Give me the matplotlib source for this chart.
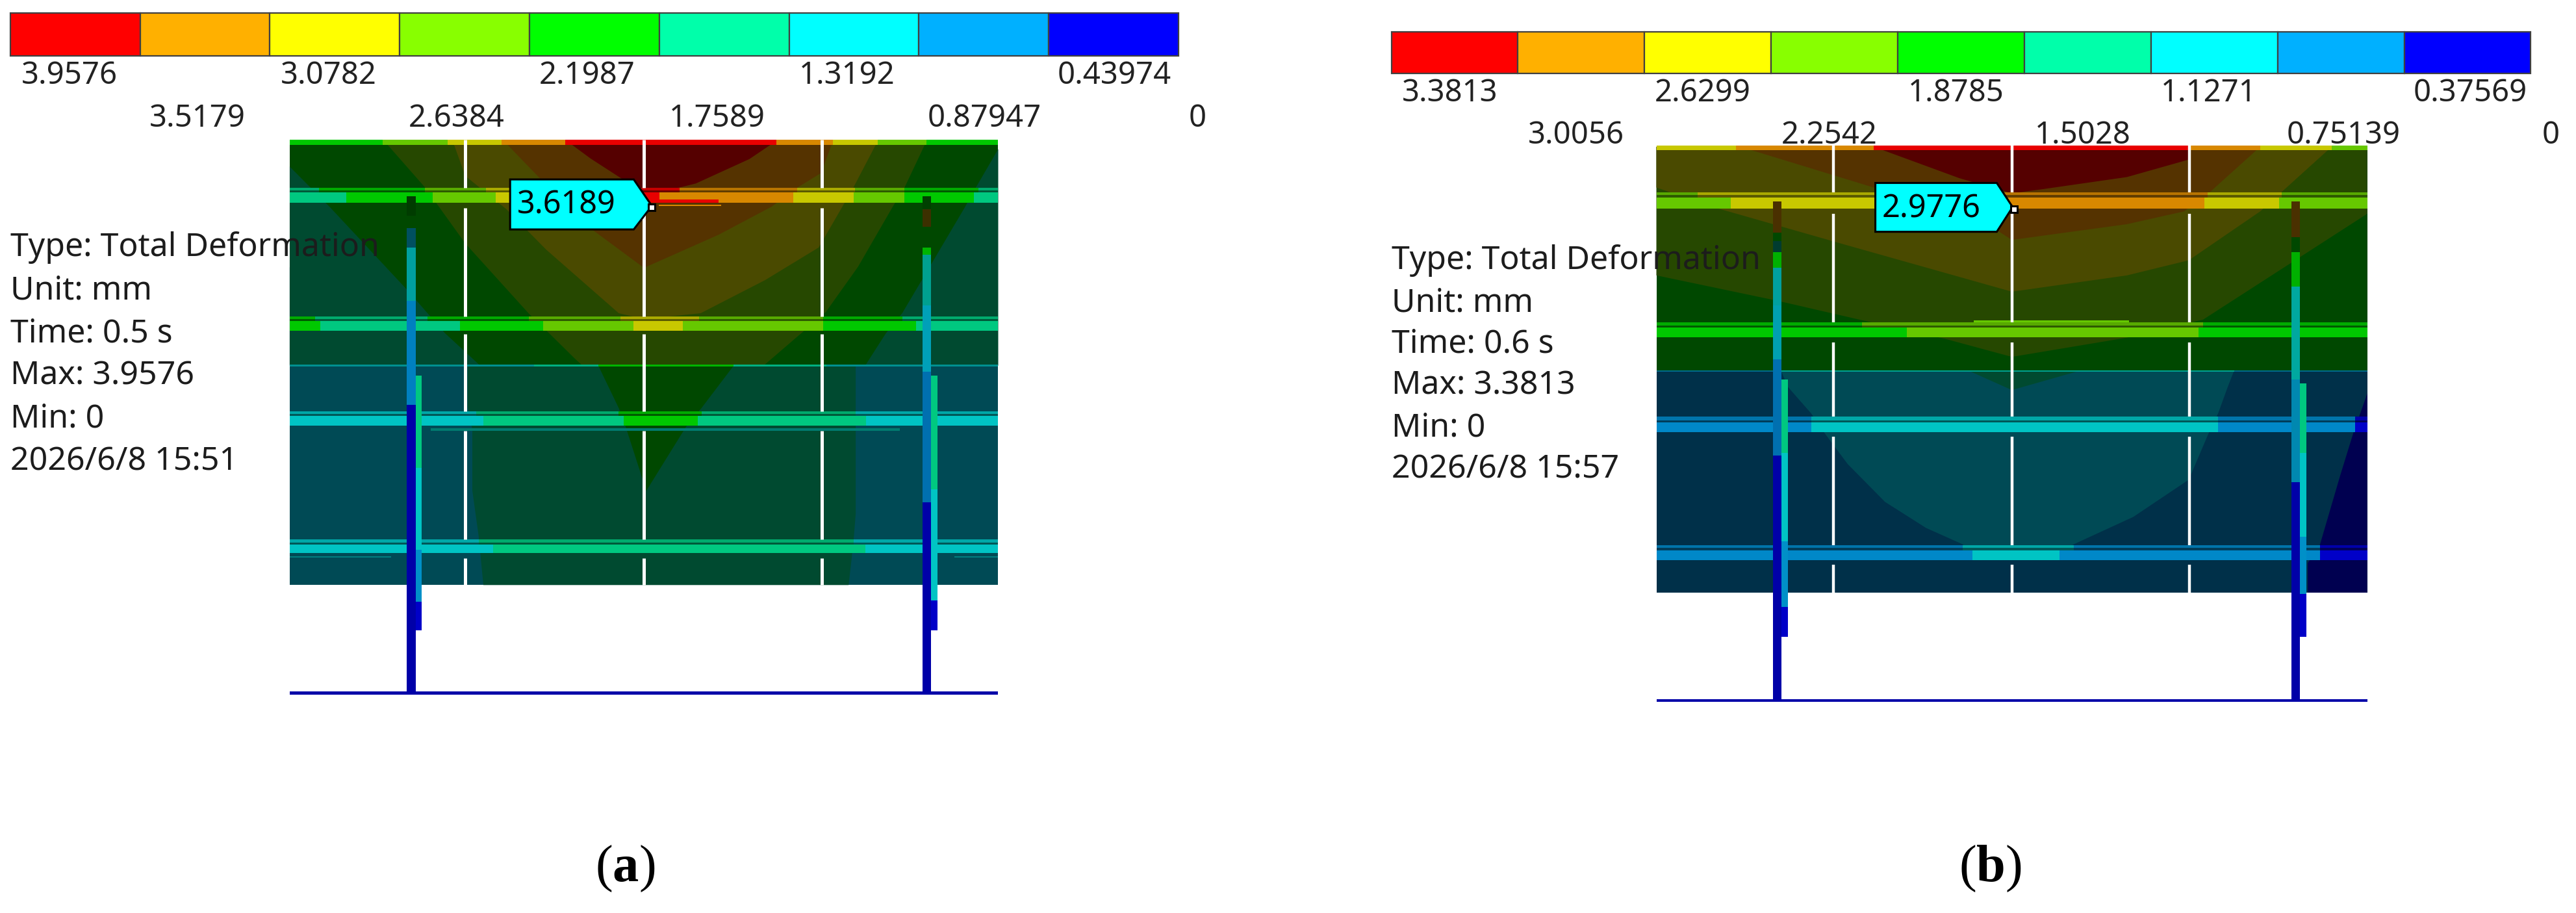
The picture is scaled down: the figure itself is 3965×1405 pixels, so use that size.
import numpy as np
import matplotlib
matplotlib.use('Agg')
import matplotlib.pyplot as plt
from matplotlib.patches import Polygon

plt.rcParams['font.family'] = ['Noto Sans', 'DejaVu Sans']
plt.rcParams['mathtext.fontset'] = 'custom'
plt.rcParams['mathtext.bf'] = 'Liberation Serif:bold'
plt.rcParams['mathtext.rm'] = 'Liberation Serif'

# legend
BAR_COLOURS = ['#ff0000', '#ffb000', '#ffff00', '#88ff00', '#00ff00',
               '#00ffaa', '#00ffff', '#00b0ff', '#0000ff']
A_LEVELS = ['3.9576', '3.5179', '3.0782', '2.6384', '2.1987', '1.7589',
            '1.3192', '0.87947', '0.43974', '0']
B_LEVELS = ['3.3813', '3.0056', '2.6299', '2.2542', '1.8785', '1.5028',
            '1.1271', '0.75139', '0.37569', '0']
A_INFO = ['Type: Total Deformation', 'Unit: mm', 'Time: 0.5 s', 'Max: 3.9576', 'Min: 0', '2026/6/8 15:51']
B_INFO = ['Type: Total Deformation', 'Unit: mm', 'Time: 0.6 s', 'Max: 3.3813', 'Min: 0', '2026/6/8 15:57']
A_PROBE = '3.6189'
B_PROBE = '2.9776'

# shaded plate colours
D_RED = '#550000'
D_BROWN = '#553300'
D_OLIVE = '#4a4a00'
D_OGREEN = '#264800'
D_GREEN = '#004800'
D_TGREEN = '#004a30'
D_TEAL = '#004a55'
D_BLUE = '#003049'
D_NAVY = '#000050'

# beam colours
RED = '#e80000'
ORG = '#d88800'
YEL = '#c8c800'
LIM = '#66c800'
GRN = '#00c800'
TGR = '#00c880'
CYN = '#00c4c4'
SKY = '#0088c8'
BLU = '#0000c8'
NVY = '#0000a8'

# panel a contour regions, painted back to front
A_PLATE_TOP = [(368, 240), (1268, 240), (1268, 626), (368, 626)]
A_PLATE_LOW = [(368, 626), (1268, 626), (1268, 1003), (368, 1003)]
A_TEAL_L = [(368, 457), (407, 537), (424, 569), (448, 626), (368, 626)]
A_TGREEN_L = [(368, 284), (420, 355), (518, 497), (565, 570), (610, 626), (368, 626)]
A_TGREEN_R = [(1268, 254), (1240, 319), (1226, 353), (1181, 456), (1146, 536),
              (1125, 571), (1099, 626), (1268, 626)]
A_OGREEN = [(488, 240), (540, 320), (591, 416), (672, 537), (698, 571), (731, 615), (740, 626),
            (970, 626), (1019, 569), (1049, 534), (1090, 456), (1134, 353), (1149, 320), (1177, 240)]
A_OLIVE = [(575, 240), (591, 300), (643, 357), (694, 427), (786, 536), (818, 546),
           (890, 536), (972, 479), (1040, 423), (1046, 409), (1070, 353), (1084, 320), (1115, 240)]
A_BROWN = [(640, 240), (690, 310), (735, 375), (818, 458), (913, 401), (980, 353),
           (1013, 320), (1043, 295), (1058, 240)]
A_DRED = [(720, 240), (750, 270), (790, 305), (815, 328), (863, 320), (884, 313),
          (952, 271), (986, 240)]
A_TGREEN_LOW = [(594, 626), (594, 697), (600, 736), (600, 841), (608, 919), (614, 1003),
                (1078, 1003), (1084, 931), (1087, 880), (1087, 626)]
A_GREEN_V = [(760, 626), (786, 699), (795, 732), (821, 841), (871, 732), (891, 699), (932, 626)]

# panel a beams: colour break points along each member
A_STRIPE_E = [368, 486, 569, 637, 718, 986, 1058, 1115, 1177, 1268]
A_STRIPE_C = [GRN, LIM, YEL, ORG, RED, ORG, YEL, LIM, GRN]
A_B1_TOP_E = [368, 405, 540, 617, 648, 863, 1013, 1086, 1149, 1243, 1268]
A_B1_TOP_C = [TGR, GRN, LIM, YEL, RED, ORG, YEL, LIM, GRN, TGR]
A_B1_E = [368, 440, 550, 630, 648, 838, 1008, 1084, 1149, 1237, 1268]
A_B1_C = [TGR, GRN, LIM, YEL, RED, ORG, YEL, LIM, GRN, TGR]
A_B2_TOP_E = [368, 400, 543, 672, 788, 888, 1046, 1146, 1268]
A_B2_TOP_C = [GRN, TGR, GRN, LIM, YEL, LIM, GRN, TGR]
A_B2_E = [368, 407, 584, 690, 805, 867, 1046, 1164, 1268]
A_B2_C = [GRN, TGR, GRN, LIM, YEL, LIM, GRN, TGR]
A_B3_TOP_E = [368, 605, 786, 891, 1087, 1268]
A_B3_TOP_C = [CYN, TGR, GRN, TGR, CYN]
A_B3_E = [368, 614, 792, 886, 1100, 1268]
A_B3_C = [CYN, TGR, GRN, TGR, CYN]
A_B4_TOP_E = [368, 608, 1084, 1268]
A_B4_E = [368, 626, 1099, 1268]
A_B4_C = [CYN, TGR, CYN]
A_BEAM_Y = [(320, 325, 328, 346), (541, 546, 549, 566), (704, 709, 712, 729), (925, 930, 933, 948)]
A_LINE_E = [368, 678, 760, 932, 1050, 1268]
A_LINE_C = ['#009090', '#00b080', '#00b400', '#00b080', '#009090']

# panel a uprights: colour break points going down
A_L_POST_Y = [335, 368, 390, 423, 515, 693, 1189]
A_L_POST_C = ['#003c00', '#004800', '#005060', '#00a0a0', '#0080c0', NVY]
A_L_SIDE_Y = [643, 802, 942, 1032, 1081]
A_L_SIDE_C = [TGR, CYN, '#0090c8', BLU]
A_R_POST_Y = [335, 357, 387, 423, 436, 523, 637, 861, 1189]
A_R_POST_C = ['#004000', '#3c3000', '#004800', '#00b400', '#00a090', '#00a0b8', '#0070b0', NVY]
A_R_SIDE_Y = [643, 838, 1030, 1081]
A_R_SIDE_C = [TGR, CYN, BLU]

# panel b contour regions
B_PLATE_TOP = [(409, 250), (1305, 250), (1305, 635), (409, 635)]
B_PLATE_LOW = [(409, 635), (1305, 635), (1305, 1016), (409, 1016)]
B_OGREEN = [(409, 250), (1305, 250), (1305, 365), (1098, 547), (1002, 578), (857, 611),
            (773, 580), (665, 547), (563, 515), (409, 471)]
B_OLIVE = [(409, 250), (1260, 250), (1170, 361), (1080, 445), (1002, 471), (857, 499),
           (641, 416), (479, 353), (409, 320)]
B_BROWN = [(515, 250), (683, 320), (839, 394), (857, 410), (1002, 383), (1074, 361),
           (1104, 331), (1170, 250)]
B_DRED = [(683, 250), (791, 304), (857, 330), (900, 322), (1002, 302), (1080, 272), (1082, 250)]
B_TEAL = [(566, 635), (575, 663), (604, 708), (621, 742), (650, 795), (697, 860), (749, 905),
          (795, 933), (815, 958), (905, 958), (935, 933), (1010, 886), (1080, 822), (1106, 739),
          (1117, 708), (1129, 663), (1137, 635)]
B_TGREEN_V = [(803, 635), (857, 668), (942, 635)]
B_NAVY = [(1305, 674), (1288, 739), (1271, 814), (1245, 935), (1230, 965), (1230, 1016), (1305, 1016)]

B_STRIPE_E = [409, 509, 683, 1082, 1170, 1260, 1305]
B_STRIPE_C = [YEL, ORG, RED, ORG, YEL, LIM]
B_B1_TOP_E = [409, 461, 685, 1104, 1197, 1305]
B_B1_TOP_C = [LIM, YEL, ORG, YEL, LIM]
B_B1_E = [409, 503, 685, 1100, 1194, 1305]
B_B1_C = [LIM, YEL, ORG, YEL, LIM]
B_B2_TOP_E = [409, 668, 1098, 1305]
B_B2_E = [409, 725, 1092, 1305]
B_B2_C = [GRN, LIM, GRN]
B_B3_E = [409, 604, 1117, 1290, 1305]
B_B3_C = [SKY, CYN, SKY, BLU]
B_B4_TOP_E = [409, 795, 935, 1245, 1305]
B_B4_E = [409, 807, 917, 1245, 1305]
B_B4_C = [SKY, CYN, SKY, BLU]
B_BEAM_Y = [(328, 333, 337, 356), (552, 557, 560, 577), (714, 720, 723, 740), (934, 939, 943, 960)]
B_LINE_E = [409, 566, 1137, 1305]
B_LINE_C = ['#006a8a', '#00a090', '#006a8a']

B_L_POST_Y = [344, 398, 412, 431, 458, 523, 615, 780, 1202]
B_L_POST_C = ['#4a3000', '#004800', '#003c30', '#00b000', '#00a0a0', '#00a0b0', '#0070b0', NVY]
B_L_SIDE_Y = [650, 776, 928, 1041, 1092]
B_L_SIDE_C = [TGR, CYN, '#0090c8', BLU]
B_R_POST_Y = [344, 405, 431, 490, 650, 826, 1202]
B_R_POST_C = ['#4a3000', '#004800', '#00b000', '#00a8a0', '#0088b0', NVY]
B_R_SIDE_Y = [656, 776, 920, 1018, 1092]
B_R_SIDE_C = [TGR, CYN, '#0090c8', BLU]


def dim(colour, k):
    r, g, b = matplotlib.colors.to_rgb(colour)
    return (r * k, g * k, b * k)


def segs(ax, edges, colours, y0, y1, k=1.0):
    edges = np.array(edges)
    ax.bar(edges[:-1], y1 - y0, width=np.diff(edges), bottom=y0, align='edge',
           color=[dim(c, k) for c in colours], linewidth=0)


def post(ax, x0, x1, ys, colours):
    ys = np.array(ys)
    ax.bar([x0] * len(colours), np.diff(ys), width=x1 - x0, bottom=ys[:-1], align='edge',
           color=colours, linewidth=0, zorder=5)


def beam(ax, top_e, top_c, main_e, main_c, ys):
    y0, y1, y2, y3 = ys
    segs(ax, top_e, top_c, y0, y1, 0.85)
    segs(ax, top_e, top_c, y1, y2, 0.45)
    segs(ax, main_e, main_c, y2, y3)


def legend(ax, x0, x1, y0, y1, levels, row1, row2, lefts1, lefts2):
    edges = np.linspace(x0, x1, 10)
    ax.bar(edges[:-1], y1 - y0, width=np.diff(edges), bottom=y0, align='edge',
           color=BAR_COLOURS, edgecolor='#404040', linewidth=1.6)
    for lab, x in zip(levels[0::2], lefts1):
        ax.text(x, row1, lab, fontsize=34, color='#222222', va='center', ha='left')
    for lab, x in zip(levels[1::2], lefts2):
        ax.text(x, row2, lab, fontsize=34, color='#222222', va='center', ha='left')


def info(ax, lines, x, ys):
    for line, y in zip(lines, ys):
        ax.text(x, y, line, fontsize=36, color='#1c1c1c', va='center', ha='left', zorder=8)


def probe(ax, pts, text, tx, ty, sq):
    ax.add_patch(Polygon(pts, closed=True, fc='#00ffff', ec='black', lw=2.2, zorder=9))
    ax.text(tx, ty, text, fontsize=35, color='black', va='center', ha='left', zorder=10)
    ax.plot([sq[0]], [sq[1]], 's', ms=7, mfc='white', mec='black', mew=2.2, zorder=9)


def fill(ax, regions):
    for pts, colour in regions:
        ax.add_patch(Polygon(pts, closed=True, fc=colour, ec='none'))


def whites(ax, xs, gaps, lw):
    for x in xs:
        for y0, y1 in gaps:
            ax.plot([x, x], [y0, y1], color='white', lw=lw, solid_capstyle='butt', zorder=3)


def panel_axes(rect, ylim, z):
    a = fig.add_axes(rect, zorder=z)
    a.set_xlim(0, 1568)
    a.set_ylim(*ylim)
    a.axis('off')
    return a


fig = plt.figure(figsize=(39.65, 14.05), dpi=100)
rect_a = [0, 0, 1900 / 3965, 1]
rect_b = [2050 / 3965, 0, 1915 / 3965, 1]
text_y = (1552, 0)
model_y = (1566.5, -2.2)

# panel a model
ax = panel_axes(rect_a, model_y, 1)
fill(ax, [(A_PLATE_TOP, D_GREEN), (A_PLATE_LOW, D_TEAL), (A_TEAL_L, D_TEAL), (A_TGREEN_L, D_TGREEN),
          (A_TGREEN_R, D_TGREEN), (A_OGREEN, D_OGREEN), (A_OLIVE, D_OLIVE), (A_BROWN, D_BROWN),
          (A_DRED, D_RED), (A_TGREEN_LOW, D_TGREEN), (A_GREEN_V, D_GREEN)])
segs(ax, A_STRIPE_E, A_STRIPE_C, 238, 247)
whites(ax, [591, 818, 1044], [(238, 320), (355, 541), (572, 704), (738, 925), (957, 1003)], 3.6)
beam(ax, A_B1_TOP_E, A_B1_TOP_C, A_B1_E, A_B1_C, A_BEAM_Y[0])
beam(ax, A_B2_TOP_E, A_B2_TOP_C, A_B2_E, A_B2_C, A_BEAM_Y[1])
beam(ax, A_B3_TOP_E, A_B3_TOP_C, A_B3_E, A_B3_C, A_BEAM_Y[2])
beam(ax, A_B4_TOP_E, A_B4_C, A_B4_E, A_B4_C, A_BEAM_Y[3])
segs(ax, A_LINE_E, A_LINE_C, 624, 628)
segs(ax, [547, 1143], ['#007c70'], 734, 738)
segs(ax, [368, 497], ['#008080'], 953, 956)
segs(ax, [1212, 1268], ['#008080'], 953, 956)
segs(ax, [834, 913], [RED], 341, 346)
segs(ax, [837, 916], [ORG], 350, 352)
post(ax, 517, 528, A_L_POST_Y, A_L_POST_C)
post(ax, 528, 536, A_L_SIDE_Y, A_L_SIDE_C)
post(ax, 1172, 1183, A_R_POST_Y, A_R_POST_C)
post(ax, 1183, 1191, A_R_SIDE_Y, A_R_SIDE_C)
segs(ax, [368, 1268], [NVY], 1186, 1191)

# panel a legend and text
at = panel_axes(rect_a, text_y, 2)
legend(at, 13, 1497, 22, 95, A_LEVELS, 129, 202, [27, 356, 685, 1015, 1343], [190, 519, 850, 1178, 1510])
info(at, A_INFO, 13, [421, 494, 567, 639, 712, 785])
probe(at, [(648, 305), (805, 305), (828, 350), (805, 390), (648, 390)], A_PROBE, 657, 349, (828, 352))
at.text(794, 1477, r'($\mathbf{a}$)', fontsize=58, family='Liberation Serif', ha='center', va='center')

# panel b model
bx = panel_axes(rect_b, model_y, 1)
fill(bx, [(B_PLATE_TOP, D_GREEN), (B_PLATE_LOW, D_BLUE), (B_OGREEN, D_OGREEN), (B_OLIVE, D_OLIVE),
          (B_BROWN, D_BROWN), (B_DRED, D_RED), (B_TEAL, D_TEAL), (B_TGREEN_V, D_TGREEN), (B_NAVY, D_NAVY)])
segs(bx, B_STRIPE_E, B_STRIPE_C, 248, 256)
whites(bx, [632, 857, 1081], [(248, 328), (365, 552), (586, 714), (748, 934), (968, 1016)], 3.2)
beam(bx, B_B1_TOP_E, B_B1_TOP_C, B_B1_E, B_B1_C, B_BEAM_Y[0])
beam(bx, B_B2_TOP_E, B_B2_C, B_B2_E, B_B2_C, B_BEAM_Y[1])
beam(bx, B_B3_E, B_B3_C, B_B3_E, B_B3_C, B_BEAM_Y[2])
beam(bx, B_B4_TOP_E, B_B4_C, B_B4_E, B_B4_C, B_BEAM_Y[3])
segs(bx, B_LINE_E, B_LINE_C, 634, 637)
segs(bx, [809, 1005], [LIM], 548, 552)
post(bx, 556, 567, B_L_POST_Y, B_L_POST_C)
post(bx, 567, 575, B_L_SIDE_Y, B_L_SIDE_C)
post(bx, 1209, 1220, B_R_POST_Y, B_R_POST_C)
post(bx, 1220, 1228, B_R_SIDE_Y, B_R_SIDE_C)
segs(bx, [409, 1305], [NVY], 1199, 1204)

# panel b legend and text
bt = panel_axes(rect_b, text_y, 2)
legend(bt, 75, 1511, 54, 125, B_LEVELS, 158, 230, [88, 407, 726, 1045, 1363], [247, 566, 886, 1203, 1525])
info(bt, B_INFO, 75, [443, 515, 585, 656, 727, 798])
probe(bt, [(685, 311), (838, 311), (858, 352), (838, 394), (685, 394)], B_PROBE, 693, 355, (860, 356))
bt.text(830, 1477, r'($\mathbf{b}$)', fontsize=58, family='Liberation Serif', ha='center', va='center')

fig.savefig('out.png', dpi=100)
